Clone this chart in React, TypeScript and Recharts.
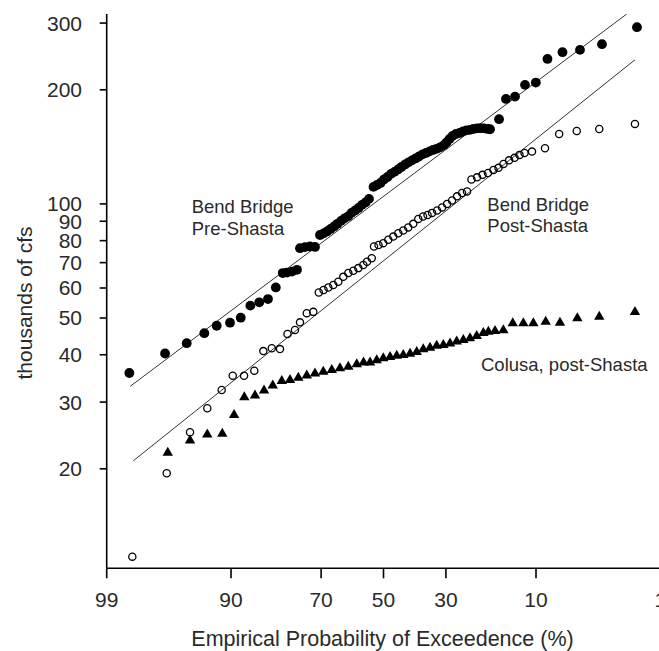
import React from 'react';
import { ScatterChart, Scatter, XAxis, YAxis } from 'recharts';

// x = standard normal quantile of the plotting position (probability-paper coordinate)
// y = peak flow, thousands of cfs
const preShasta: [number, number][] = [
  [-2.136, 35.8], [-1.836, 40.3], [-1.654, 42.9], [-1.506, 45.6], [-1.402, 47.7], [-1.29, 48.6],
  [-1.2, 50.1], [-1.119, 53.9], [-1.044, 55.0], [-0.971, 56.1], [-0.905, 60.2], [-0.847, 65.7],
  [-0.811, 65.9], [-0.769, 66.3], [-0.727, 67.0], [-0.702, 76.4], [-0.66, 76.9], [-0.618, 77.2],
  [-0.576, 77.0], [-0.534, 82.8], [-0.504, 83.6], [-0.475, 84.6], [-0.445, 85.9], [-0.416, 87.2],
  [-0.387, 88.6], [-0.357, 90.2], [-0.328, 91.6], [-0.298, 92.7], [-0.269, 94.7], [-0.239, 96.1],
  [-0.21, 97.6], [-0.181, 99.4], [-0.151, 100.9], [-0.122, 103.1], [-0.084, 110.9], [-0.055, 112.2],
  [-0.025, 113.6], [0.004, 116.0], [0.034, 117.8], [0.063, 120.0], [0.092, 121.5], [0.122, 123.3],
  [0.151, 125.2], [0.181, 127.1], [0.21, 128.7], [0.239, 130.3], [0.269, 131.8], [0.298, 133.4],
  [0.328, 135.1], [0.357, 136.3], [0.387, 137.6], [0.416, 138.8], [0.445, 139.7], [0.475, 141.0],
  [0.504, 142.7], [0.529, 145.3], [0.555, 148.4], [0.58, 151.2], [0.609, 153.0], [0.639, 153.9],
  [0.668, 155.4], [0.697, 156.3], [0.727, 156.8], [0.756, 157.7], [0.786, 158.2], [0.815, 158.4],
  [0.845, 158.2], [0.874, 157.7], [0.895, 157.4], [0.971, 167.3], [1.029, 189.2], [1.105, 191.9],
  [1.189, 206.1], [1.28, 209.0], [1.378, 241.3], [1.504, 251.4], [1.651, 254.9], [1.836, 263.9],
  [2.13, 292.6],
];

const postShasta: [number, number][] = [
  [-2.111, 11.73], [-1.822, 19.47], [-1.626, 24.98], [-1.481, 28.9], [-1.36, 32.3], [-1.267, 35.2],
  [-1.172, 35.2], [-1.086, 36.3], [-1.01, 40.9], [-0.939, 41.6], [-0.87, 41.4], [-0.807, 45.4],
  [-0.744, 46.5], [-0.702, 48.7], [-0.645, 51.5], [-0.59, 51.9], [-0.544, 58.4], [-0.504, 59.3],
  [-0.464, 60.2], [-0.422, 61.1], [-0.38, 62.3], [-0.338, 64.2], [-0.296, 65.7], [-0.254, 66.6],
  [-0.212, 67.7], [-0.17, 69.0], [-0.139, 70.4], [-0.099, 71.9], [-0.08, 77.2], [-0.042, 77.9],
  [-0.002, 78.8], [0.04, 80.4], [0.082, 82.0], [0.124, 83.7], [0.166, 85.1], [0.208, 86.7],
  [0.25, 88.6], [0.292, 91.3], [0.332, 92.6], [0.37, 93.5], [0.408, 94.7], [0.45, 96.1],
  [0.492, 97.9], [0.534, 100.0], [0.576, 102.1], [0.618, 104.7], [0.66, 106.9], [0.702, 107.9],
  [0.739, 116.0], [0.786, 117.5], [0.832, 119.3], [0.878, 120.7], [0.924, 122.9], [0.966, 124.5],
  [1.008, 127.5], [1.055, 130.3], [1.101, 132.3], [1.143, 134.7], [1.185, 136.3], [1.248, 137.4],
  [1.357, 140.3], [1.476, 152.9], [1.624, 155.8], [1.813, 157.7], [2.113, 162.6],
];

const colusaPost: [number, number][] = [
  [-1.813, 22.2], [-1.626, 23.9], [-1.481, 24.8], [-1.355, 24.9], [-1.256, 27.9], [-1.17, 31.1],
  [-1.08, 31.4], [-1.004, 32.4], [-0.931, 33.4], [-0.855, 34.3], [-0.786, 34.5], [-0.716, 35.0],
  [-0.645, 35.5], [-0.576, 35.9], [-0.506, 36.3], [-0.435, 36.7], [-0.366, 37.1], [-0.296, 37.4],
  [-0.225, 38.0], [-0.168, 38.4], [-0.113, 38.4], [-0.057, 38.9], [-0.002, 39.4], [0.055, 39.7],
  [0.111, 40.0], [0.166, 40.2], [0.223, 40.5], [0.279, 40.9], [0.334, 41.6], [0.391, 42.0],
  [0.447, 42.5], [0.503, 42.7], [0.559, 43.1], [0.615, 43.6], [0.671, 44.0], [0.727, 44.5],
  [0.783, 45.1], [0.839, 45.9], [0.881, 46.3], [0.937, 46.5], [1.007, 46.7], [1.086, 48.7],
  [1.175, 48.7], [1.259, 48.7], [1.363, 49.2], [1.483, 48.9], [1.629, 50.2], [1.813, 50.7],
  [2.113, 52.2],
];

// fitted lines (end points)
const preFit: [number, number][] = [[-2.13, 33.0], [2.044, 317.0]];
const postFit: [number, number][] = [[-2.103, 21.0], [2.113, 240.0]];

const exceedLabels = [99, 90, 70, 50, 30, 10, 1];
const yTicks = [20, 30, 40, 50, 60, 70, 80, 90, 100, 200, 300];
const yDomain: [number, number] = [10.93, 317];

function probit(p: number): number {
  const a = [-3.969683028665376e1, 2.209460984245205e2, -2.759285104469687e2, 1.38357751867269e2, -3.066479806614716e1, 2.506628277459239];
  const b = [-5.447609879822406e1, 1.615858368580409e2, -1.556989798598866e2, 6.680131188771972e1, -1.328068155288572e1];
  const c = [-7.784894002430293e-3, -3.223964580411365e-1, -2.400758277161838, -2.549671010229583, 4.374664141464968, 2.938163982698783];
  const d = [7.784695709041462e-3, 3.224671290700398e-1, 2.445134137142996, 3.754408661907416];
  const pl = 0.02425;
  if (p < pl) {
    const q = Math.sqrt(-2 * Math.log(p));
    return (((((c[0] * q + c[1]) * q + c[2]) * q + c[3]) * q + c[4]) * q + c[5]) / ((((d[0] * q + d[1]) * q + d[2]) * q + d[3]) * q + 1);
  }
  if (p <= 1 - pl) {
    const q = p - 0.5;
    const r = q * q;
    return ((((((a[0] * r + a[1]) * r + a[2]) * r + a[3]) * r + a[4]) * r + a[5]) * q) / (((((b[0] * r + b[1]) * r + b[2]) * r + b[3]) * r + b[4]) * r + 1);
  }
  const q = Math.sqrt(-2 * Math.log(1 - p));
  return -(((((c[0] * q + c[1]) * q + c[2]) * q + c[3]) * q + c[4]) * q + c[5]) / ((((d[0] * q + d[1]) * q + d[2]) * q + d[3]) * q + 1);
}

const xTicks = exceedLabels.map((p) => probit(1 - p / 100));
const xDomain: [number, number] = [xTicks[0], 2.5];
const fmtX = (z: number) => {
  let best = 0;
  xTicks.forEach((t, i) => {
    if (Math.abs(t - z) < Math.abs(xTicks[best] - z)) best = i;
  });
  return String(exceedLabels[best]);
};

const toPts = (arr: [number, number][]) => arr.map(([z, q]) => ({ z, q }));

const FONT = '"Liberation Sans", Arial, Helvetica, sans-serif';
const TXT = '#2a2a2a';

const PreDot = (props: any) => <circle cx={props.cx} cy={props.cy} r={4.9} fill="#000" />;
const PostDot = (props: any) => (
  <circle cx={props.cx} cy={props.cy} r={3.6} fill="none" stroke="#000" strokeWidth={1.3} />
);
const TriDot = (props: any) => {
  const { cx, cy } = props;
  return <polygon points={`${cx},${cy - 5} ${cx + 5.2},${cy + 4} ${cx - 5.2},${cy + 4}`} fill="#000" />;
};
const NoDot = () => <g />;

export default function App() {
  return (
    <div style={{ position: 'absolute', left: 0, top: 0, width: 659, height: 651, overflow: 'hidden', background: '#fff' }}>
      <ScatterChart width={681} height={651} margin={{ top: 14, right: 0, bottom: 0, left: 0 }}>
        <XAxis
          type="number"
          dataKey="z"
          domain={xDomain}
          ticks={xTicks}
          tickFormatter={fmtX}
          interval={0}
          allowDataOverflow
          height={82.7}
          tickSize={10}
          tickMargin={13.4}
          axisLine={{ stroke: '#000', strokeWidth: 1.6 }}
          tickLine={{ stroke: '#000', strokeWidth: 1.6 }}
          tick={{ fill: TXT, fontSize: 21, fontFamily: FONT }}
        />
        <YAxis
          type="number"
          dataKey="q"
          scale="log"
          domain={yDomain}
          ticks={yTicks}
          interval={0}
          allowDataOverflow
          width={106.7}
          tickSize={7}
          tickMargin={17.7}
          axisLine={{ stroke: '#000', strokeWidth: 1.6 }}
          tickLine={{ stroke: '#000', strokeWidth: 1.6 }}
          tick={{ fill: TXT, fontSize: 21, fontFamily: FONT }}
        />
        <Scatter data={toPts(preFit)} line={{ stroke: '#333', strokeWidth: 1 }} shape={NoDot} isAnimationActive={false} />
        <Scatter data={toPts(postFit)} line={{ stroke: '#333', strokeWidth: 1 }} shape={NoDot} isAnimationActive={false} />
        <Scatter data={toPts(colusaPost)} shape={TriDot} isAnimationActive={false} />
        <Scatter data={toPts(postShasta)} shape={PostDot} isAnimationActive={false} />
        <Scatter data={toPts(preShasta)} shape={PreDot} isAnimationActive={false} />
      </ScatterChart>
      <svg
        width={659}
        height={651}
        style={{ position: 'absolute', left: 0, top: 0, pointerEvents: 'none' }}
        fontFamily={FONT}
        fill={TXT}
      >
        <text x={382.5} y={645.5} fontSize={21.5} textAnchor="middle">Empirical Probability of Exceedence (%)</text>
        <text x={31.7} y={303} fontSize={21} textAnchor="middle" transform="rotate(-90 31.7 303)">thousands of cfs</text>
        <text x={191.7} y={213.3} fontSize={18.5}>Bend Bridge</text>
        <text x={191.7} y={235} fontSize={18.5}>Pre-Shasta</text>
        <text x={487.3} y={210.7} fontSize={18.5}>Bend Bridge</text>
        <text x={487.3} y={231.8} fontSize={18.5}>Post-Shasta</text>
        <text x={481} y={370.7} fontSize={18.5}>Colusa, post-Shasta</text>
      </svg>
    </div>
  );
}
